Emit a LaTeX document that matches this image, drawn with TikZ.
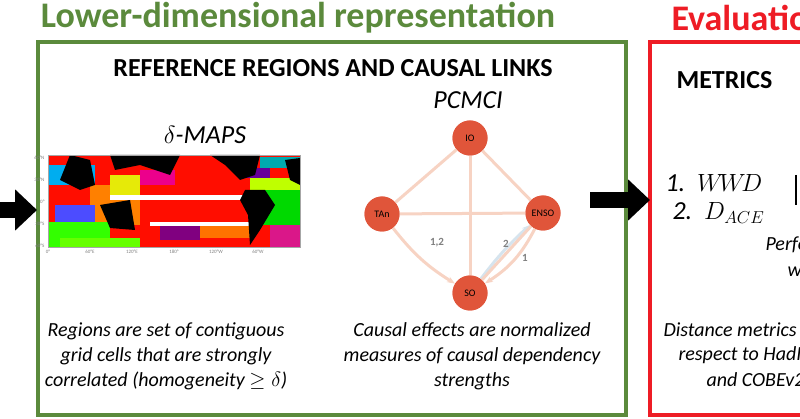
\documentclass[tikz,border=0pt]{standalone}
\usepackage{fontspec}
\setmainfont{Carlito}
\usetikzlibrary{arrows.meta}
\definecolor{grn}{HTML}{5B8A3C}
\definecolor{rd}{HTML}{EE1C25}
\definecolor{nd}{HTML}{E0553A}
\definecolor{ed}{HTML}{F7D3C3}
\definecolor{eb}{HTML}{D6E4EE}
\tikzset{
 cnode/.style={circle,fill=nd,minimum size=35pt,inner sep=0pt,font=\fontsize{10}{11}\selectfont},
 cedge/.style={draw=ed,line width=3pt},
 elab/.style={font=\fontsize{11}{12}\selectfont\bfseries,text=gray},
 captxt/.style={font=\fontsize{20}{25}\selectfont\itshape,align=center},
 big/.style={-{Triangle[length=22pt,width=40pt]},line width=16pt},
 tick/.style={font=\fontsize{5}{6}\selectfont,text=gray}
}
\begin{document}
\begin{tikzpicture}[x=1pt,y=-1pt]
\useasboundingbox (0,0) rectangle (800,419);
\clip (0,0) rectangle (800,419);
% titles
\node[text=grn,font=\fontsize{36}{38}\selectfont\bfseries] (t1) at (298,18) {Lower-dimensional representation};
\node[text=rd,font=\fontsize{36}{38}\selectfont\bfseries,anchor=west] (t2) at (668,18) {Evaluation};
% boxes
\draw[grn,line width=4pt] (38,42) rectangle (626,415);
\draw[rd,line width=4pt] (650,42) rectangle (812,415);
\node[font=\fontsize{26}{28}\selectfont\bfseries] (h1) at (333,68) {REFERENCE REGIONS AND CAUSAL LINKS};
\node[font=\fontsize{26}{28}\selectfont\bfseries,anchor=west] (h2) at (673,80) {METRICS};
% delta maps
\node[font=\fontsize{26}{28}\selectfont] (dm) at (205,135) {$\delta$\textit{-MAPS}};
\begin{scope}
\clip (48,155) rectangle (300,247);
\fill[red!90!orange] (48,155) rectangle (300,247);
\fill[orange] (90,185) rectangle (140,225);
\fill[cyan] (48,165) rectangle (95,185);
\fill[blue!70] (55,205) rectangle (95,222);
\fill[green!80!yellow] (48,222) rectangle (110,247);
\fill[magenta] (140,170) rectangle (175,185);
\fill[yellow!90!green] (110,175) rectangle (140,195);
\fill[violet] (160,225) rectangle (200,240);
\fill[orange!90!red] (200,225) rectangle (250,238);
\fill[white] (150,222) rectangle (260,226);
\fill[white] (110,195) rectangle (300,200);
\fill[green!85!black] (250,190) rectangle (300,225);
\fill[cyan!60!green] (260,157) rectangle (300,168);
\fill[violet!80!blue] (245,168) rectangle (270,178);
\fill[lime] (250,178) rectangle (300,190);
\fill[magenta!80!violet] (270,225) rectangle (300,247);
\fill[green!60!yellow] (60,238) rectangle (140,247);
% continents
\fill[black] (70,155) -- (90,160) -- (95,185) -- (80,190) -- (60,180) -- cycle;
\fill[black] (110,155) -- (180,155) -- (170,175) -- (140,165) -- (115,170) -- cycle;
\fill[black] (100,205) -- (130,200) -- (135,230) -- (110,228) -- cycle;
\fill[black] (210,155) -- (260,155) -- (255,175) -- (240,180) -- (225,165) -- cycle;
\fill[black] (245,190) -- (265,190) -- (275,205) -- (260,230) -- (250,245) -- (248,215) -- (240,200) -- cycle;
\fill[black] (285,160) -- (300,158) -- (300,185) -- (290,180) -- cycle;
\end{scope}
\draw[gray!70,line width=0.4pt] (48,155) rectangle (300,247);
\node[tick,anchor=east] (la1) at (48,158) {60°N};
\node[tick,anchor=east] (la2) at (48,180) {30°N};
\node[tick,anchor=east] (la3) at (48,202) {0°};
\node[tick,anchor=east] (la4) at (48,224) {30°S};
\node[tick,anchor=east] (la5) at (48,246) {60°S};
\node[tick] (lo1) at (48,252) {0°};
\node[tick] (lo2) at (90,252) {60°E};
\node[tick] (lo3) at (132,252) {120°E};
\node[tick] (lo4) at (174,252) {180°};
\node[tick] (lo5) at (216,252) {120°W};
\node[tick] (lo6) at (258,252) {60°W};
% PCMCI graph
\node[font=\fontsize{26}{28}\selectfont] (pc) at (468,100) {$\mathit{PCMCI}$};
\node[cnode] (io) at (470,138) {IO};
\node[cnode] (tan) at (382,214) {TAn};
\node[cnode] (enso) at (543,213) {ENSO};
\node[cnode] (so) at (470,293) {SO};
\draw[cedge] (io) -- (tan);
\draw[cedge] (io) -- (enso);
\draw[cedge] (io) -- (so);
\draw[cedge] (tan) -- (enso);
\draw[cedge,-{Stealth[length=8pt]}] (tan) to[bend right=10] (so);
\draw[cedge,draw=eb,-{Stealth[length=8pt]}] (so) to[bend left=5] (enso);
\draw[cedge] (enso) -- (so);
\draw[cedge,-{Stealth[length=8pt]}] (enso) to[bend left=15] (so);
\node[cnode] (io2) at (io) {IO};
\node[cnode] (tan2) at (tan) {TAn};
\node[cnode] (enso2) at (enso) {ENSO};
\node[cnode] (so2) at (so) {SO};
\node[elab] (l1) at (437,243) {1,2};
\node[elab] (l2) at (506,244) {2};
\node[elab] (l3) at (525,258) {1};
% captions
\node[captxt] (c1) at (166,356) {Regions are set of contiguous\\grid cells that are strongly\\correlated (homogeneity $\geq\delta$)};
\node[captxt] (c2) at (472,356) {Causal effects are normalized\\measures of causal dependency\\strengths};
% arrows
\coordinate (a0) at (-5,210);
\coordinate (a1) at (37,210);
\draw[big] (a0) -- (a1);
\coordinate (b0) at (590,200);
\coordinate (b1) at (650,200);
\draw[big] (b0) -- (b1);
% metrics
\node[font=\fontsize{26}{28}\selectfont\itshape,anchor=west] (m1) at (662,183) {1.\ \ $W\!W\!D$};
\node[font=\fontsize{26}{28}\selectfont\itshape,anchor=west] (m2) at (669,213) {2.\ \ $D_{ACE}$};
\draw[line width=2pt] (796,175) -- (796,205);
\node[font=\fontsize{20}{22}\selectfont\itshape,anchor=west] (p1) at (762,245) {Performance};
\node[font=\fontsize{20}{22}\selectfont\itshape,anchor=west] (p2) at (784,270) {with};
\node[font=\fontsize{20}{22}\selectfont\itshape,anchor=west] (d1) at (660,330) {Distance metrics with};
\node[font=\fontsize{20}{22}\selectfont\itshape,anchor=west] (d2) at (675,355) {respect to HadISST};
\node[font=\fontsize{20}{22}\selectfont\itshape,anchor=west] (d3) at (703,380) {and COBEv2};
\end{tikzpicture}
\end{document}
